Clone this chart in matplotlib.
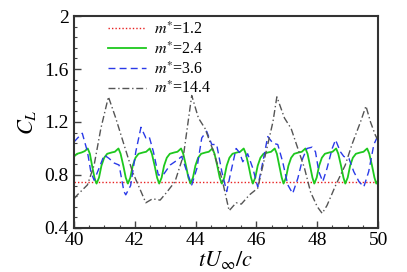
import numpy as np
import matplotlib
matplotlib.use('Agg')
import matplotlib.pyplot as plt
from matplotlib.ticker import MultipleLocator

plt.rcParams['font.family'] = ['Liberation Serif', 'DejaVu Serif']
plt.rcParams['mathtext.fontset'] = 'stix'

# m* = 1.2 : steady
t_red = [40.0, 50.0]
cl_red = [0.75, 0.75]

# m* = 2.4
t_green = [40.00, 40.10, 40.25, 40.35, 40.45, 40.52, 40.60, 40.68, 40.74,
           40.82, 40.90, 40.99, 41.09, 41.24, 41.34, 41.46, 41.53, 41.62, 41.70, 41.77,
           41.85, 41.93, 42.02, 42.12, 42.27, 42.37, 42.49, 42.56, 42.65, 42.73, 42.80,
           42.88, 42.96, 43.05, 43.15, 43.30, 43.40, 43.52, 43.59, 43.68, 43.76, 43.83,
           43.91, 43.99, 44.08, 44.18, 44.33, 44.43, 44.55, 44.62, 44.71, 44.79, 44.86,
           44.94, 45.02, 45.11, 45.21, 45.36, 45.46, 45.58, 45.65, 45.74, 45.82, 45.88,
           45.96, 46.04, 46.13, 46.23, 46.38, 46.48, 46.60, 46.67, 46.75, 46.83, 46.89,
           46.97, 47.05, 47.14, 47.24, 47.39, 47.49, 47.61, 47.68, 47.76, 47.84, 47.90,
           47.98, 48.06, 48.15, 48.25, 48.40, 48.50, 48.62, 48.69, 48.78, 48.86, 48.92,
           49.00, 49.08, 49.17, 49.27, 49.42, 49.52, 49.64, 49.71, 49.80, 49.88, 49.94,
           50.00]
cl_green = [0.94, 0.96, 0.97, 0.98, 1.00, 0.96, 0.86, 0.77, 0.735,
            0.78, 0.87, 0.93, 0.96, 0.97, 0.975, 1.00, 0.96, 0.87, 0.78, 0.735,
            0.78, 0.87, 0.93, 0.96, 0.97, 0.975, 1.00, 0.96, 0.87, 0.78, 0.735,
            0.78, 0.87, 0.93, 0.96, 0.97, 0.975, 1.00, 0.96, 0.87, 0.78, 0.735,
            0.78, 0.87, 0.93, 0.96, 0.97, 0.975, 1.00, 0.96, 0.87, 0.78, 0.735,
            0.78, 0.87, 0.93, 0.96, 0.97, 0.975, 1.00, 0.96, 0.87, 0.78, 0.735,
            0.78, 0.87, 0.93, 0.96, 0.97, 0.975, 1.00, 0.96, 0.87, 0.78, 0.735,
            0.78, 0.87, 0.93, 0.96, 0.97, 0.975, 1.00, 0.96, 0.87, 0.78, 0.735,
            0.78, 0.87, 0.93, 0.96, 0.97, 0.975, 1.00, 0.96, 0.87, 0.78, 0.735,
            0.78, 0.87, 0.93, 0.96, 0.97, 0.975, 1.00, 0.96, 0.87, 0.78, 0.735,
            0.76]

# m* = 3.6
t_blue = [40.00, 40.12, 40.27, 40.44, 40.55, 40.66, 40.82, 40.99, 41.15, 41.32,
          41.48, 41.64, 41.70, 41.86, 42.03, 42.20, 42.36, 42.47, 42.61, 42.77,
          42.93, 43.16, 43.38, 43.54, 43.71, 43.87, 44.04, 44.20, 44.36, 44.53,
          44.69, 44.86, 45.02, 45.16, 45.33, 45.44, 45.55, 45.71, 45.88, 46.04,
          46.21, 46.37, 46.54, 46.70, 46.86, 47.03, 47.19, 47.36, 47.52, 47.66,
          47.83, 47.94, 48.05, 48.18, 48.32, 48.49, 48.60, 48.76, 48.87, 49.04,
          49.20, 49.37, 49.53, 49.69, 49.86, 50.00]
cl_blue = [1.05, 1.08, 1.115, 0.975, 0.825, 0.76, 0.85, 0.95, 0.925, 0.89,
           0.875, 0.675, 0.65, 0.72, 0.975, 1.16, 1.08, 1.09, 0.975, 0.80,
           0.80, 0.875, 0.91, 0.94, 0.825, 0.725, 0.85, 1.08, 1.13, 1.03,
           1.03, 0.825, 0.675, 0.825, 1.00, 0.97, 0.90, 0.96, 0.85, 0.71,
           0.90, 1.09, 1.04, 1.03, 0.90, 0.725, 0.66, 0.775, 0.925, 1.00,
           1.01, 0.975, 0.825, 0.75, 0.85, 1.00, 1.065, 0.975, 0.94, 0.925,
           0.825, 0.75, 0.71, 0.825, 1.03, 1.10]

# m* = 14.4
t_gray = [40.00, 40.11, 40.44, 40.66, 40.88, 41.13, 41.37, 41.64, 41.92, 42.36,
          42.58, 42.83, 43.05, 43.32, 43.60, 43.87, 44.09, 44.31, 44.58, 44.86,
          45.10, 45.33, 45.50, 45.77, 46.04, 46.32, 46.54, 46.67, 46.92, 47.14,
          47.36, 47.58, 47.78, 48.00, 48.16, 48.32, 48.60, 48.92, 49.14, 49.42,
          49.60, 49.75, 49.91, 50.00]
cl_gray = [0.62, 0.65, 0.725, 0.875, 1.15, 1.39, 1.23, 1.03, 0.825, 0.59,
           0.62, 0.61, 0.67, 0.75, 0.95, 1.40, 1.23, 1.15, 0.98, 0.775,
           0.53, 0.59, 0.58, 0.65, 0.70, 0.98, 1.20, 1.39, 1.23, 1.15,
           1.00, 0.85, 0.67, 0.56, 0.51, 0.57, 0.72, 0.875, 1.03, 1.20,
           1.32, 1.20, 1.10, 1.06]

y_ticks = [0.4, 0.8, 1.2, 1.6, 2.0]
y_ticklabels = ['0.4', '0.8', '1.2', '1.6', '2']

fig = plt.figure(figsize=(4.07, 2.72), dpi=100)
ax = fig.add_axes([0.182, 0.162, 0.747, 0.779])

ax.plot(t_red, cl_red, color='#e82020', linestyle=(0, (1, 1.5)), lw=1.0, label=r'$m^{*}$=1.2')
ax.plot(t_green, cl_green, color='#1ec81e', linestyle='-', lw=1.3, label=r'$m^{*}$=2.4')
ax.plot(t_blue, cl_blue, color='#2a3ae8', linestyle=(0, (5, 3)), lw=1.0, label=r'$m^{*}$=3.6')
ax.plot(t_gray, cl_gray, color='#555555', linestyle=(0, (5, 2, 1, 2)), lw=1.0, label=r'$m^{*}$=14.4')

ax.set_xlim(40, 50)
ax.set_ylim(0.4, 2.0)
ax.xaxis.set_major_locator(MultipleLocator(2))
ax.xaxis.set_minor_locator(MultipleLocator(0.5))
ax.set_yticks(y_ticks)
ax.set_yticklabels(y_ticklabels)
ax.yaxis.set_minor_locator(MultipleLocator(0.08))
ax.tick_params(which='both', direction='in', top=False, right=False, labelsize=14, color='#444444')
ax.tick_params(which='major', length=5, width=1.0)
ax.tick_params(axis='x', which='major', pad=3)
ax.tick_params(axis='y', which='major', pad=4)
ax.tick_params(which='minor', length=2.5, width=0.8)
for s in ax.spines.values():
    s.set_linewidth(1.5)
    s.set_color('#333333')

ax.set_xlabel(r'$tU_{\infty}/c$', fontsize=16, labelpad=0)
ax.set_ylabel(r'$C_L$', fontsize=16, labelpad=4)

ax.legend(loc='upper left', bbox_to_anchor=(0.08, 1.02), frameon=False, fontsize=11.5,
          handlelength=2.4, handletextpad=0.5, labelspacing=0.2, borderaxespad=0.2)

fig.savefig('out.png', dpi=100)
